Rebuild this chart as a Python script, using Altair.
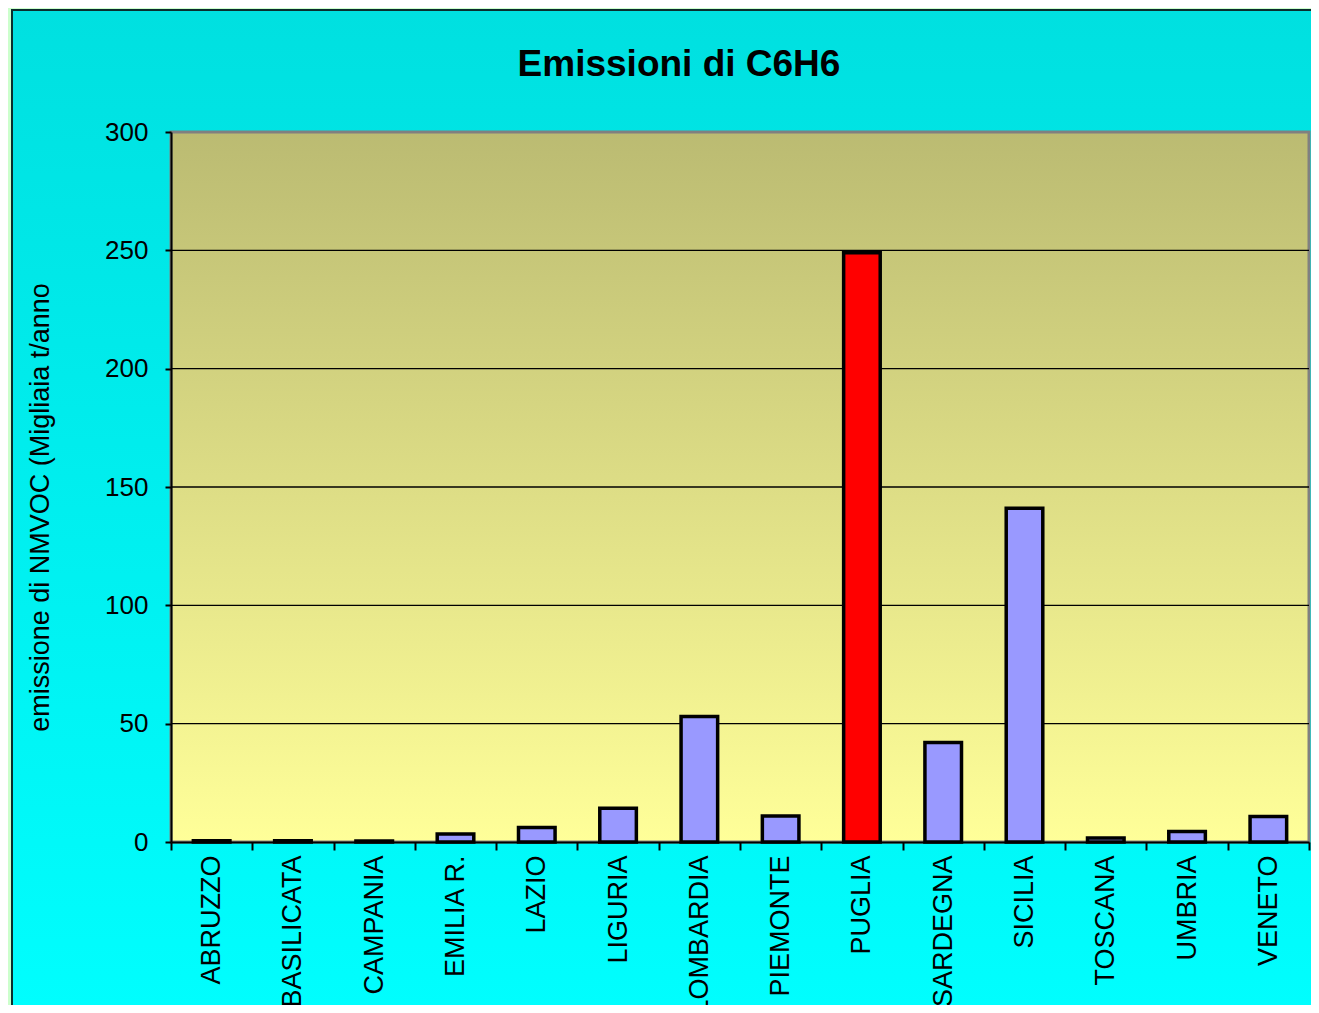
import altair as alt
import pandas as pd

# ---- data ----
regioni = ["ABRUZZO", "BASILICATA", "CAMPANIA", "EMILIA R.", "LAZIO", "LIGURIA",
           "LOMBARDIA", "PIEMONTE", "PUGLIA", "SARDEGNA", "SICILIA", "TOSCANA",
           "UMBRIA", "VENETO"]
emissioni = [0.5, 0.5, 0.4, 3.4, 6.1, 14.3, 53.0, 11.0, 249.0, 42.0, 141.0, 1.7, 4.4, 10.8]
y_ticks = [0, 50, 100, 150, 200, 250, 300]
grid_vals = [50, 100, 150, 200, 250]
titolo = "Emissioni di C6H6"
y_titolo = "emissione di NMVOC (Migliaia t/anno"

df = pd.DataFrame({"regione": regioni, "valore": emissioni})
df_grid = pd.DataFrame({"v": grid_vals})
df_one = pd.DataFrame({"t": [titolo]})

W, H = 1138, 710
FONT = "Liberation Sans"
yscale = alt.Scale(domain=[0, 300], nice=False, zero=True)

y_axis = alt.Axis(values=y_ticks, title=y_titolo, grid=False,
                  labelFontSize=26, labelColor="black", labelFont=FONT,
                  labelFontWeight="normal",
                  tickColor="black", tickSize=6, tickWidth=2,
                  domainColor="black", domainWidth=2, labelPadding=17,
                  titleFontSize=27, titleFont=FONT, titleFontWeight="normal",
                  titleColor="black", titleAngle=270, titleAlign="center",
                  titleBaseline="middle", titleX=-131, titleY=375, zindex=1)

cyan_bg = alt.Chart(df_one).mark_rect(
    fill=alt.Gradient(gradient="linear", x1=0, x2=0, y1=0, y2=1,
                      stops=[alt.GradientStop(color="#00E0E0", offset=0),
                             alt.GradientStop(color="#00FFFF", offset=1)]),
    stroke="#0A2E2E", strokeWidth=2,
).encode(x=alt.value(-159), x2=alt.value(W + 40), y=alt.value(-122), y2=alt.value(H + 200))

plot_bg = alt.Chart(df_one).mark_rect(
    fill=alt.Gradient(gradient="linear", x1=0, x2=0, y1=0, y2=1,
                      stops=[alt.GradientStop(color="#BBBB72", offset=0),
                             alt.GradientStop(color="#FFFF99", offset=1)]),
    stroke="#808080", strokeWidth=3,
).encode(x=alt.value(0), x2=alt.value(W), y=alt.value(0), y2=alt.value(H))

grid = alt.Chart(df_grid).mark_rule(color="black", strokeWidth=1.4).encode(
    y=alt.Y("v:Q", scale=yscale, axis=y_axis),
    x=alt.value(0), x2=alt.value(W),
)

bars = alt.Chart(df).mark_bar(
    stroke="black", strokeWidth=3.5, width=alt.RelativeBandSize(0.45)
).encode(
    x=alt.X("regione:N", sort=regioni,
            scale=alt.Scale(paddingInner=0, paddingOuter=0),
            axis=alt.Axis(title=None, labelAngle=-90, labelFontSize=27, labelColor="black",
                          labelFont=FONT, tickColor="black", tickSize=8, tickWidth=2,
                          domainColor="black", domainWidth=2, tickBand="extent",
                          labelPadding=5, zindex=1, labelLimit=300)),
    y=alt.Y("valore:Q", scale=yscale, axis=y_axis),
    fill=alt.condition(alt.datum.regione == "PUGLIA", alt.value("#FF0000"), alt.value("#9999FF")),
)

title_txt = alt.Chart(df_one).mark_text(
    font=FONT, fontSize=37, fontWeight="bold", color="black",
    align="center", baseline="alphabetic",
).encode(text="t:N", x=alt.value(508), y=alt.value(-56))

chart = alt.layer(cyan_bg, plot_bg, grid, bars, title_txt).properties(
    width=W, height=H,
    autosize=alt.AutoSizeParams(type="none"),
    padding={"left": 163, "top": 124, "right": 2, "bottom": 163},
    background="#CCFFCC",
).configure_view(stroke=None).configure(font=FONT)

chart.save("out.html", embed_options={"renderer": "svg", "actions": False})
